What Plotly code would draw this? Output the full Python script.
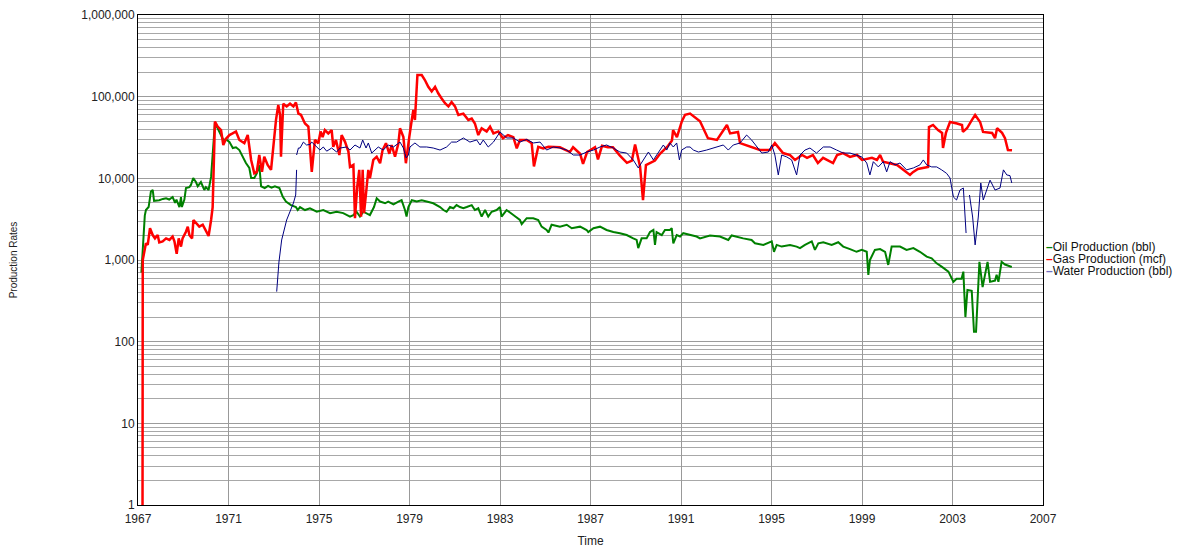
import plotly.graph_objects as go

# ---------------- data (decimal year, rate) ----------------
oil_year = [1967.15, 1967.3, 1967.35, 1967.47, 1967.57, 1967.65, 1967.71, 1967.94, 1968.1, 1968.24, 1968.38,
            1968.53, 1968.64, 1968.7, 1968.83, 1968.9, 1968.94, 1969.05, 1969.12, 1969.27, 1969.34, 1969.44,
            1969.56, 1969.64, 1969.78, 1969.93, 1970.0, 1970.12, 1970.23, 1970.3, 1970.4, 1970.52, 1970.67,
            1970.77, 1970.89, 1971.04, 1971.19, 1971.33, 1971.48, 1971.63, 1971.77, 1971.92, 1972.0, 1972.14,
            1972.25, 1972.36, 1972.44, 1972.6, 1972.75, 1972.9, 1973.05, 1973.25, 1973.4, 1973.54, 1973.76,
            1973.98, 1974.06, 1974.16, 1974.38, 1974.6, 1974.9, 1975.19, 1975.49, 1975.78, 1976.07, 1976.37,
            1976.52, 1976.66, 1976.81, 1976.96, 1977.11, 1977.25, 1977.43, 1977.55, 1977.7, 1977.92, 1978.06,
            1978.29, 1978.51, 1978.65, 1978.8, 1978.87, 1978.95, 1979.1, 1979.32, 1979.54, 1979.76, 1980.05,
            1980.35, 1980.5, 1980.64, 1980.79, 1980.94, 1981.08, 1981.23, 1981.38, 1981.53, 1981.75, 1981.89,
            1982.04, 1982.19, 1982.34, 1982.48, 1982.63, 1982.85, 1983.0, 1983.07, 1983.29, 1983.59, 1983.88,
            1983.96, 1984.18, 1984.47, 1984.69, 1984.84, 1985.06, 1985.14, 1985.28, 1985.65, 1985.95, 1986.17,
            1986.54, 1986.83, 1986.9, 1987.13, 1987.42, 1987.71, 1988.01, 1988.3, 1988.6, 1988.89, 1989.04,
            1989.11, 1989.26, 1989.48, 1989.63, 1989.78, 1989.85, 1989.92, 1990.15, 1990.29, 1990.51, 1990.59,
            1990.66, 1990.81, 1990.96, 1991.1, 1991.4, 1991.69, 1991.84, 1992.28, 1992.72, 1993.09, 1993.24,
            1993.39, 1993.75, 1994.12, 1994.27, 1994.64, 1995.01, 1995.11, 1995.23, 1995.45, 1995.82, 1996.11,
            1996.26, 1996.48, 1996.78, 1996.92, 1997.07, 1997.29, 1997.66, 1997.95, 1998.17, 1998.47, 1998.76,
            1998.99, 1999.21, 1999.28, 1999.35, 1999.57, 1999.8, 2000.02, 2000.16, 2000.31, 2000.68, 2000.97,
            2001.27, 2001.56, 2001.86, 2002.08, 2002.3, 2002.52, 2002.82, 2003.04, 2003.18, 2003.4, 2003.48,
            2003.57, 2003.66, 2003.85, 2003.95, 2004.04, 2004.19, 2004.33, 2004.55, 2004.66, 2004.88, 2004.95,
            2005.03, 2005.17, 2005.32, 2005.47, 2005.62]
oil_val = [700, 3500, 4100, 4450, 6900, 7200, 5300, 5400, 5600, 5700, 5500,
           5900, 5000, 5500, 4450, 5900, 4450, 5500, 7600, 7800, 8300, 10100,
           9000, 8000, 9000, 7200, 7800, 7200, 10400, 22000, 48000, 41000, 34000,
           29500, 30000, 28000, 23500, 24000, 22200, 18400, 15400, 13400, 10100, 10100,
           11500, 14600, 8000, 7600, 8100, 7700, 8000, 7600, 5950, 5200, 4700,
           4450, 4090, 4450, 4090, 4300, 3900, 4090, 3750, 3900, 3750, 3400,
           3550, 3900, 3400, 3900, 3750, 3550, 4450, 5700, 5200, 4950, 5200,
           4800, 5200, 5400, 4090, 3400, 4450, 5400, 5200, 5400, 5200, 4950,
           4450, 4090, 3900, 4450, 4300, 4700, 4450, 4300, 4450, 4700, 4090,
           4300, 3400, 4090, 3400, 3900, 4090, 4450, 3400, 4090, 3550, 3090,
           2750, 3250, 3250, 3090, 2560, 2330, 2170, 2700, 2560, 2700, 2450,
           2560, 2330, 2200, 2450, 2560, 2330, 2200, 2130, 2020, 1840, 1760,
           1400, 1840, 1840, 2200, 2330, 1530, 2200, 2020, 2330, 2330, 2450,
           1600, 2020, 1940, 2130, 2020, 1940, 1840, 2000, 1940, 1760, 2000,
           1940, 1840, 1760, 1600, 1530, 1690, 1260, 1530, 1460, 1530, 1460,
           1400, 1530, 1690, 1330, 1600, 1650, 1530, 1650, 1460, 1360, 1260,
           1330, 1260, 655, 1000, 1330, 1360, 1260, 870, 1460, 1460, 1330,
           1400, 1260, 1100, 1050, 910, 830, 720, 540, 590, 590, 720,
           200, 430, 420, 132, 132, 950, 465, 950, 540, 560, 660,
           540, 950, 880, 850, 820]

gas_year = [1967.2, 1967.21, 1967.35, 1967.43, 1967.53, 1967.65, 1967.75, 1967.87, 1967.94, 1968.09, 1968.24,
            1968.39, 1968.53, 1968.61, 1968.71, 1968.8, 1968.9, 1968.97, 1969.12, 1969.2, 1969.27, 1969.39,
            1969.45, 1969.56, 1969.71, 1969.86, 1970.01, 1970.12, 1970.23, 1970.3, 1970.4, 1970.52, 1970.67,
            1970.77, 1970.89, 1971.04, 1971.18, 1971.33, 1971.48, 1971.7, 1971.85, 1972.0, 1972.14, 1972.25,
            1972.36, 1972.48, 1972.58, 1972.73, 1972.88, 1972.98, 1973.1, 1973.2, 1973.28, 1973.32, 1973.42,
            1973.57, 1973.72, 1973.87, 1973.98, 1974.09, 1974.2, 1974.38, 1974.53, 1974.68, 1974.82, 1974.97,
            1975.07, 1975.16, 1975.26, 1975.41, 1975.56, 1975.63, 1975.75, 1975.9, 1976.0, 1976.15, 1976.3,
            1976.37, 1976.52, 1976.59, 1976.69, 1976.78, 1976.86, 1976.93, 1976.99, 1977.08, 1977.18, 1977.25,
            1977.4, 1977.55, 1977.7, 1977.81, 1977.96, 1978.11, 1978.21, 1978.36, 1978.51, 1978.58, 1978.73,
            1978.84, 1978.9, 1978.99, 1979.1, 1979.17, 1979.24, 1979.35, 1979.54, 1979.68, 1979.83, 1979.98,
            1980.13, 1980.27, 1980.42, 1980.57, 1980.72, 1980.86, 1981.01, 1981.16, 1981.38, 1981.6, 1981.75,
            1981.89, 1982.04, 1982.19, 1982.41, 1982.56, 1982.71, 1982.93, 1983.13, 1983.35, 1983.59, 1983.74,
            1983.88, 1984.18, 1984.4, 1984.5, 1984.69, 1984.91, 1985.14, 1985.34, 1985.65, 1986.09, 1986.23,
            1986.54, 1986.67, 1986.85, 1987.2, 1987.33, 1987.51, 1987.77, 1987.99, 1988.3, 1988.61, 1988.83,
            1988.97, 1989.19, 1989.32, 1989.45, 1989.85, 1990.07, 1990.43, 1990.6, 1990.65, 1990.82, 1991.04,
            1991.18, 1991.4, 1991.84, 1992.19, 1992.59, 1993.03, 1993.17, 1993.52, 1993.61, 1994.19, 1994.49,
            1994.93, 1995.15, 1995.51, 1995.82, 1996.04, 1996.35, 1996.57, 1996.83, 1997.05, 1997.28, 1997.72,
            1997.9, 1998.16, 1998.47, 1998.78, 1999.0, 1999.44, 1999.66, 1999.8, 1999.93, 2000.55, 2000.81,
            2001.12, 2001.25, 2001.47, 2001.92, 2001.96, 2002.14, 2002.36, 2002.54, 2002.58, 2002.71, 2002.89,
            2003.2, 2003.42, 2003.46, 2003.64, 2003.86, 2004.0, 2004.22, 2004.35, 2004.75, 2004.88, 2004.97,
            2005.19, 2005.32, 2005.45, 2005.63]
gas_val = [1, 1000, 1600, 1530, 2450, 2020, 1840, 2020, 1640, 1690, 1840,
           1760, 1940, 1690, 1190, 1840, 1460, 1840, 2220, 2560, 2020, 1840,
           3090, 2830, 2560, 2700, 2220, 1970, 3090, 4450, 49500, 43000, 39000,
           25600, 30600, 33900, 35500, 37500, 29500, 26900, 33900, 16800, 11500, 12000,
           19300, 12000, 18400, 14600, 12700, 26900, 52000, 79000, 60000, 18400, 82000,
           76000, 82000, 76000, 85000, 62000, 60000, 47000, 43000, 12000, 29500, 26900,
           37500, 32000, 39000, 35500, 39000, 24300, 29500, 19300, 33900, 28000, 21300,
           13800, 14600, 3250, 7900, 12700, 3400, 12700, 3750, 6600, 12700, 10000,
           16800, 18400, 15300, 22200, 26900, 20000, 25600, 18400, 26900, 41000, 32000,
           15300, 21300, 32000, 51800, 68700, 51800, 184000, 184000, 160000, 132000, 116000,
           132000, 110000, 95000, 83000, 76000, 86000, 76000, 59600, 62000, 51800, 54000,
           47000, 33900, 41000, 37500, 43000, 35500, 37500, 31000, 33900, 32000, 23300,
           29500, 29500, 26900, 14000, 24300, 23300, 24300, 24000, 24000, 21000, 24000,
           20000, 15000, 21000, 24000, 17000, 25000, 24000, 24000, 19000, 15500, 16500,
           26000, 14000, 5400, 14500, 16500, 20000, 25000, 29000, 39000, 32000, 50000,
           60000, 62000, 50000, 31000, 29500, 45000, 35500, 36900, 27000, 23500, 22200,
           22200, 27000, 20400, 19300, 16800, 19300, 17800, 19300, 15400, 17800, 15400,
           19300, 20400, 18300, 19300, 16800, 17800, 16800, 19300, 16000, 14600, 12700,
           11000, 11900, 13000, 13800, 42500, 45000, 39000, 36000, 23500, 36000, 49000,
           47000, 45000, 37000, 41000, 52000, 59600, 49000, 37000, 36000, 31000, 41000,
           36000, 31000, 22200, 22000]

water_year = [1973.13, 1973.2, 1973.23, 1973.35, 1973.57, 1973.87, 1973.97, 1974.01, None, 1974.01, 1974.09,
              1974.16, 1974.31, 1974.45, 1974.6, 1974.68, 1974.82, 1975.04, 1975.19, 1975.34, 1975.56, 1975.78,
              1975.93, 1976.22, 1976.37, 1976.59, 1976.81, 1976.93, 1977.08, 1977.18, 1977.33, 1977.47, 1977.62,
              1977.84, 1978.06, 1978.29, 1978.43, 1978.58, 1978.73, 1978.85, 1978.95, 1979.02, 1979.24, 1979.46,
              1979.76, 1980.05, 1980.35, 1980.64, 1980.86, 1981.08, 1981.38, 1981.67, 1981.97, 1982.12, 1982.26,
              1982.48, 1982.71, 1982.93, 1983.0, 1983.3, 1983.59, 1983.88, 1984.18, 1984.47, 1984.77, 1985.06,
              1985.36, 1985.65, 1985.95, 1986.24, 1986.54, 1986.83, 1987.13, 1987.42, 1987.71, 1988.01, 1988.3,
              1988.6, 1988.89, 1989.11, 1989.33, 1989.56, 1989.78, 1990.0, 1990.22, 1990.37, 1990.51, 1990.66,
              1990.81, 1990.93, 1991.03, 1991.25, 1991.4, 1991.55, 1991.77, 1992.13, 1992.58, 1992.87, 1993.09,
              1993.31, 1993.61, 1993.9, 1994.12, 1994.34, 1994.57, 1994.86, 1995.01, 1995.15, 1995.3, 1995.45,
              1995.67, 1995.89, 1996.11, 1996.26, 1996.48, 1996.7, 1996.99, 1997.29, 1997.59, 1997.88, 1998.17,
              1998.47, 1998.76, 1998.99, 1999.21, 1999.35, 1999.5, 1999.72, 1999.94, 2000.09, 2000.24, 2000.46,
              2000.68, 2000.97, 2001.27, 2001.56, 2001.71, 2001.86, 2002.08, 2002.3, 2002.52, 2002.74, 2002.89,
              2003.04, 2003.18, 2003.33, 2003.48, 2003.55, 2003.6, None, 2003.75, 2003.89, 2004.0, 2004.14,
              2004.25, 2004.36, 2004.51, 2004.66, 2004.88, 2005.1, 2005.25, 2005.4, 2005.54, 2005.62]
water_val = [410, 750, 945, 1760, 3090, 4990, 6250, 12700, None, 19300, 23500,
             23500, 27800, 25600, 26000, 27800, 25600, 22200, 24200, 21500, 23500, 21000,
             23500, 24200, 22200, 25600, 23500, 29500, 23500, 27100, 20400, 22200, 24200,
             22200, 25600, 24200, 25600, 27800, 23500, 17800, 19300, 24200, 27100, 24200,
             24200, 23500, 22200, 24200, 27800, 27800, 31200, 27800, 29500, 25600, 29500,
             24200, 27800, 33900, 36900, 31200, 31200, 27800, 30000, 27100, 27800, 22200,
             24200, 23500, 22200, 19300, 19300, 21000, 22200, 24200, 25600, 23500, 21000,
             20400, 16800, 13400, 16800, 21000, 16800, 20400, 25600, 22200, 27100, 24200,
             27100, 16800, 22200, 24200, 24200, 22200, 21000, 22200, 24200, 25600, 22200,
             25600, 27100, 33900, 29500, 24200, 20400, 21000, 25600, 19300, 11000, 19300,
             18300, 16800, 11000, 19300, 22200, 23500, 20400, 24200, 24200, 22200, 20400,
             20400, 19300, 18300, 15400, 11000, 16000, 13800, 16000, 12000, 16000, 14600,
             15400, 12700, 13400, 14600, 16800, 14600, 13800, 13800, 12700, 11500, 10100,
             5900, 5430, 7190, 7610, 3550, 2140, None, 6250, 3360, 1530, 3360,
             8770, 5430, 7190, 9500, 7190, 7610, 12700, 11000, 10800, 8770]

series_names = ["Oil Production (bbl)", "Gas Production (mcf)", "Water Production (bbl)"]
series_colors = ["#008000", "#ff0000", "#000080"]
legend_key_colors = ["#008000", "#ff0000", "#7070c0"]

y_tick_vals = [1, 10, 100, 1000, 10000, 100000, 1000000]
y_tick_text = ["1", "10", "100", "1,000", "10,000", "100,000", "1,000,000"]
y_minor_vals = [m * 10 ** e for e in range(0, 6) for m in range(2, 10)]

FONT = "Liberation Sans, Arial, sans-serif"

# The page body has an 8px margin, so the figure is sized to the remaining window.
W, H = 1189, 540
PLOT_L, PLOT_R, PLOT_T, PLOT_B = 130, 1035, 7, 497

fig = go.Figure()
fig.add_trace(go.Scatter(x=oil_year, y=oil_val, mode="lines", name=series_names[0],
                         line=dict(color=series_colors[0], width=2)))
fig.add_trace(go.Scatter(x=gas_year, y=gas_val, mode="lines", name=series_names[1],
                         line=dict(color=series_colors[1], width=2.5)))
fig.add_trace(go.Scatter(x=water_year, y=water_val, mode="lines", name=series_names[2],
                         line=dict(color=series_colors[2], width=1), connectgaps=False))

# compact legend (key dash + label) placed just right of the plot frame
plot_w = PLOT_R - PLOT_L
plot_h = PLOT_B - PLOT_T
legend_x = (PLOT_R + 1 - PLOT_L) / plot_w
legend_rows_px = [239, 251, 263]  # vertical centers, figure pixels from top
annotations = []
for name, kc, ypx in zip(series_names, legend_key_colors, legend_rows_px):
    annotations.append(dict(
        xref="paper", yref="paper", x=legend_x, y=(PLOT_B - ypx) / plot_h,
        xanchor="left", yanchor="middle", showarrow=False,
        text=f"<span style='color:{kc};font-weight:bold'>\u2013</span>{name}",
        font=dict(family=FONT, size=12, color="#111111"),
    ))

fig.update_layout(
    width=W, height=H,
    margin=dict(l=PLOT_L, r=W - PLOT_R, t=PLOT_T, b=H - PLOT_B, autoexpand=False),
    paper_bgcolor="white", plot_bgcolor="white",
    font=dict(family=FONT, size=12, color="#222222"),
    showlegend=False,
    annotations=annotations,
    xaxis=dict(range=[1967, 2007], tickmode="linear", tick0=1967, dtick=4,
               showgrid=True, gridcolor="#999999", gridwidth=1,
               showline=True, linecolor="#000000", linewidth=1, mirror=True,
               ticks="", zeroline=False, ticklabeloverflow="allow", ticklabelstandoff=3,
               tickfont=dict(family=FONT, size=12, color="#222222"),
               title=dict(text="Time", font=dict(family=FONT, size=12, color="#222222"), standoff=14)),
    yaxis=dict(type="log", range=[0, 6], tickmode="array", tickvals=y_tick_vals, ticktext=y_tick_text,
               showgrid=True, gridcolor="#9c9c9c", gridwidth=1,
               minor=dict(tickmode="array", tickvals=y_minor_vals, showgrid=True,
                          gridcolor="#a8a8a8", gridwidth=1, ticks=""),
               showline=True, linecolor="#000000", linewidth=1, mirror=True,
               ticks="", zeroline=False, ticklabeloverflow="allow",
               tickfont=dict(family=FONT, size=12, color="#222222"),
               title=dict(text="Production Rates", font=dict(family=FONT, size=10, color="#222222"), standoff=66)),
)

fig.write_html("out.html")
